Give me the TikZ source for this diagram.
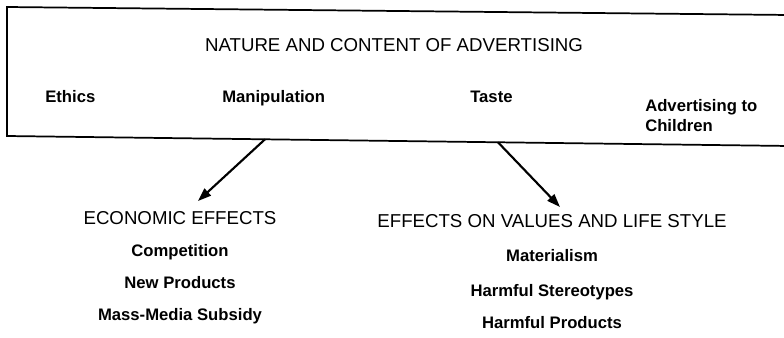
\documentclass[tikz,border=0pt]{standalone}
\usepackage{fontspec}
\setmainfont{Liberation Sans}
\usetikzlibrary{arrows.meta,positioning}
\tikzset{
  frame/.style={draw=black, line width=1.3pt},
  headtext/.style={font=\fontsize{14}{16}\selectfont, inner sep=0pt},
  itemtext/.style={font=\fontsize{12.5}{14.5}\selectfont\bfseries, inner sep=0pt, align=left},
  effect/.style={-{Triangle[length=10pt,width=7pt]}, line width=1.6pt}
}

\begin{document}
\begin{tikzpicture}[x=0.75pt,y=-0.75pt]
  \useasboundingbox (0,0) rectangle (784,337);
  \clip (0,0) rectangle (784,337);

  % --- frame (open to the right, slightly skewed) ---
  \draw[frame] (790,15) -- (7,7) -- (7,136) -- (790,146);
  \coordinate (mfoot) at (265,139.3);
  \coordinate (tfoot) at (498,142.3);

  % --- nature and content ---
  \node[headtext] (nature) at (394,45) {NATURE AND CONTENT OF ADVERTISING};
  \node[itemtext, anchor=base west] (ethics) at (45,102) {Ethics};
  \node[itemtext, anchor=base west] (manip) at (222,102) {Manipulation};
  \node[itemtext, anchor=base west] (taste) at (470,102) {Taste};
  \node[itemtext, anchor=base west] (children) at (645,131) {Advertising to\\Children};

  % --- economic effects ---
  \node[headtext, anchor=base] (econ) at (180,224) {ECONOMIC EFFECTS};
  \node[itemtext, below=24pt of econ.base, anchor=base] (compet) {Competition};
  \node[itemtext, below=24pt of compet.base, anchor=base] (newprod) {New Products};
  \node[itemtext, below=24pt of newprod.base, anchor=base] (subsidy) {Mass-Media Subsidy};

  % --- effects on values ---
  \node[headtext, anchor=base] (values) at (552,227) {EFFECTS ON VALUES AND LIFE STYLE};
  \node[itemtext, below=26pt of values.base, anchor=base] (material) {Materialism};
  \node[itemtext, below=26pt of material.base, anchor=base] (stereo) {Harmful Stereotypes};
  \node[itemtext, below=24pt of stereo.base, anchor=base] (harmprod) {Harmful Products};

  % ---------------- edges ----------------
  \coordinate (etip) at (198,201);
  \coordinate (vtip) at (560,207);
  \draw[effect] (mfoot) -- (etip);
  \draw[effect] (tfoot) -- (vtip);

\end{tikzpicture}
\end{document}
